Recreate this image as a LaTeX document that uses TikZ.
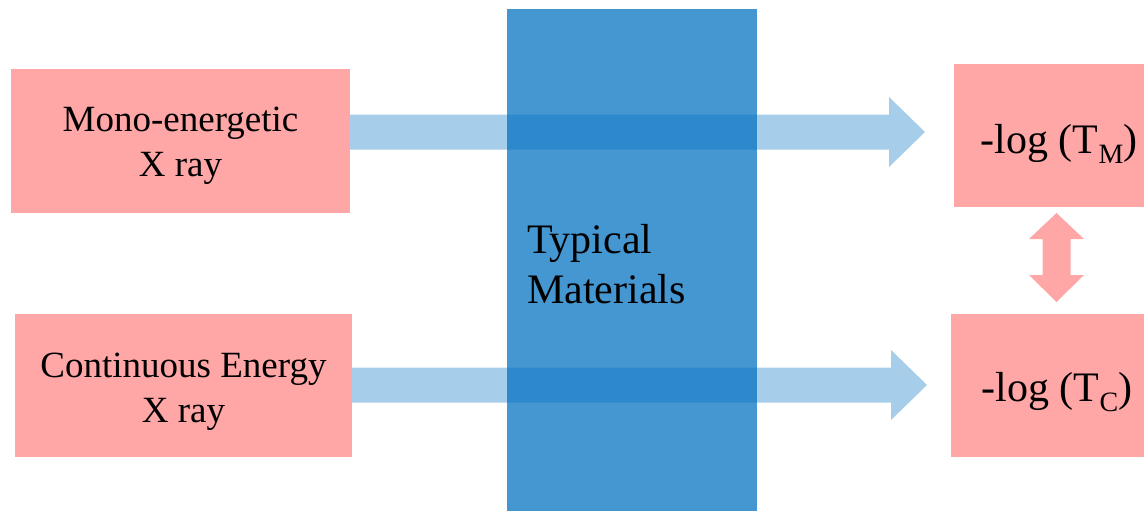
\documentclass[tikz,border=0pt]{standalone}
\usepackage{fontspec}
\setmainfont{Liberation Serif}
\usetikzlibrary{calc}
\definecolor{pinkbox}{HTML}{FFA6A6}
\definecolor{deepblue}{HTML}{0070C0}
\tikzset{
  box/.style={fill=pinkbox, draw=none, inner sep=0pt, rectangle},
  slab/.style={fill=deepblue, fill opacity=0.73, draw=none, inner sep=0pt, rectangle},
  beam/.style={fill=deepblue, fill opacity=0.35, draw=none},
  swap/.style={fill=pinkbox, draw=none},
  srclbl/.style={inner sep=0pt, align=center, anchor=north, font=\fontsize{37}{45}\selectfont},
  reslbl/.style={inner sep=0pt, anchor=base west, font=\fontsize{42}{50}\selectfont},
  matlbl/.style={inner sep=0pt, align=left, anchor=north west, font=\fontsize{42}{50.6}\selectfont}
}
\newcommand{\lowidx}[1]{\raisebox{-10pt}{\fontsize{28}{28}\selectfont #1}}
\begin{document}
\begin{tikzpicture}[x=1pt,y=-1pt]
\useasboundingbox (0,0) rectangle (1144,511);

% material slab
\node[slab, minimum width=250pt, minimum height=502pt] (mat) at (632,260) {};
\node[matlbl] (mattxt) at (527,224) {Typical\\Materials};

% beam end points
\coordinate (m0) at (350,132);
\coordinate (mtip) at (925,132);
\coordinate (c0) at (352,385);
\coordinate (ctip) at (927,385);

% block arrows through the slab
\fill[beam] ($(m0)+(0,-17.5)$) -- ($(mtip)+(-36,-17.5)$) -- ($(mtip)+(-36,-35)$) -- (mtip)
  -- ($(mtip)+(-36,35)$) -- ($(mtip)+(-36,17.5)$) -- ($(m0)+(0,17.5)$) -- cycle;
\fill[beam] ($(c0)+(0,-17.5)$) -- ($(ctip)+(-36,-17.5)$) -- ($(ctip)+(-36,-35)$) -- (ctip)
  -- ($(ctip)+(-36,35)$) -- ($(ctip)+(-36,17.5)$) -- ($(c0)+(0,17.5)$) -- cycle;

% sources
\node[box, minimum width=339pt, minimum height=144pt] (mono) at (180.5,141) {};
\node[srclbl] (monotxt) at ([yshift=34pt]mono.center) {Mono-energetic\\X ray};
\node[box, minimum width=337pt, minimum height=143pt] (cont) at (183.5,385.5) {};
\node[srclbl] (conttxt) at ([yshift=32.8pt]cont.center) {Continuous Energy\\X ray};

% results
\node[box, minimum width=190pt, minimum height=143pt] (tm) at (1049,135.5) {};
\node[reslbl] (tmtxt) at (980.5,153) {-log (T\lowidx{M})};
\node[box, minimum width=193pt, minimum height=143pt] (tc) at (1047.5,385.5) {};
\node[reslbl] (tctxt) at (981.5,401) {-log (T\lowidx{C})};

% comparison arrow
\coordinate (dtop) at (1056.5,213);
\coordinate (dbot) at (1056.5,302);
\fill[swap] (dtop) -- ($(dtop)+(27.5,26)$) -- ($(dtop)+(14,26)$) -- ($(dbot)+(14,-27)$)
  -- ($(dbot)+(27.5,-27)$) -- (dbot) -- ($(dbot)+(-27.5,-27)$) -- ($(dbot)+(-14,-27)$)
  -- ($(dtop)+(-14,26)$) -- ($(dtop)+(-27.5,26)$) -- cycle;
\end{tikzpicture}
\end{document}
